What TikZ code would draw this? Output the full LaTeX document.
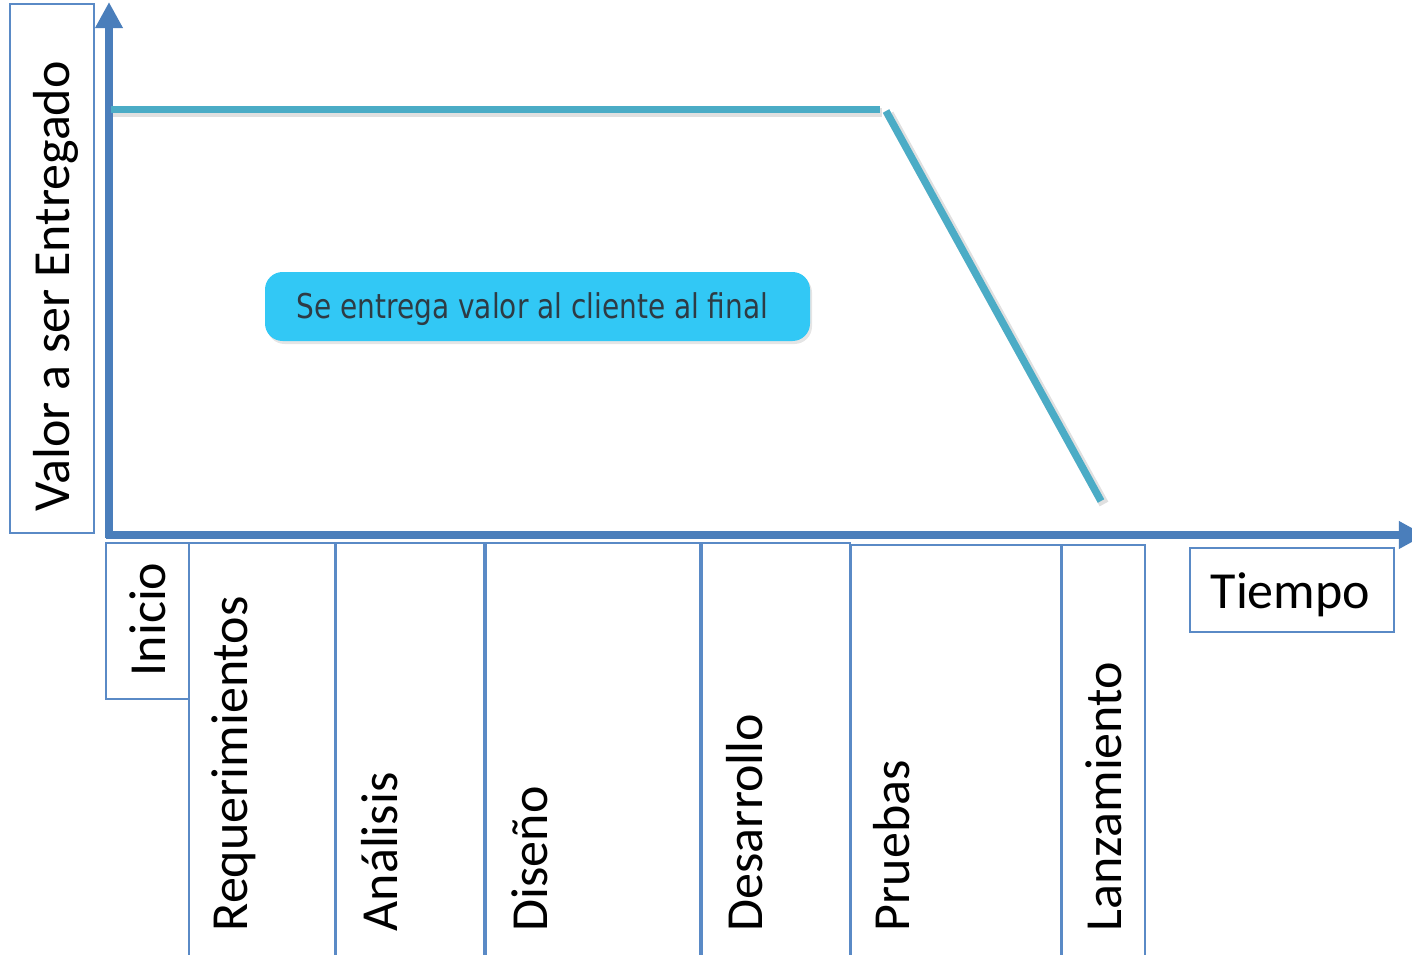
\documentclass[tikz,border=0pt]{standalone}
\usepackage{fontspec}
\setmainfont{Carlito}
\newfontfamily\calloutfont{DejaVu Sans}
\usetikzlibrary{arrows.meta}
\definecolor{axisblue}{HTML}{4A7EBB}
\definecolor{boxblue}{HTML}{5A8AC6}
\definecolor{valueteal}{HTML}{4BACC6}
\definecolor{calloutfill}{HTML}{32C8F5}
\definecolor{callouttext}{HTML}{2E3B44}
\tikzset{
  axisline/.style={draw=axisblue, line width=2pt, -{Triangle[length=7.4pt,width=7.4pt]}},
  phasebox/.style={draw=boxblue, line width=0.65pt},
  valueline/.style={draw=valueteal, line width=2.1pt},
  valueshadow/.style={draw=black, opacity=0.12, line width=2.8pt},
  phaselabel/.style={rotate=90, anchor=base west, inner sep=0pt, font=\fontsize{14.8}{16}\selectfont},
  plainlabel/.style={anchor=base west, inner sep=0pt, font=\fontsize{14.8}{16}\selectfont},
}
\begin{document}
\begin{tikzpicture}[x=0.01cm, y=-0.01cm]
\useasboundingbox (0,0) rectangle (1412,954);
\clip (0,0) rectangle (1412,954);
\fill[white] (0,0) rectangle (1412,954);

% vertical axis label
\draw[phasebox] (10,4) rectangle (94,533);
\node[phaselabel] (valor) at (70,512) {Valor a ser Entregado};

% axes
\coordinate (origin) at (109,538);
\coordinate (ytip) at (109,2);
\coordinate (xstart) at (106,535);
\coordinate (xtip) at (1425,535);
\draw[axisline] (origin) -- (ytip);
\draw[axisline] (xstart) -- (xtip);

% value curve with soft shadow
\coordinate (v0) at (111,109.5);
\coordinate (v1) at (880,109.5);
\coordinate (v2) at (886,111);
\coordinate (v3) at (1101,501);
\draw[valueshadow] ([shift={(2,3)}]v0) -- ([shift={(2,3)}]v1);
\draw[valueshadow] ([shift={(3,3)}]v2) -- ([shift={(3,3)}]v3);
\draw[valueline] (v0) -- (v1);
\draw[valueline] (v2) -- (v3);

% callout
\fill[black, opacity=0.10, rounded corners=5] (267,275) rectangle (812,344);
\fill[calloutfill, rounded corners=5] (265,272) rectangle (810,341);
\node[text=callouttext, inner sep=0pt, anchor=base] (callout) at (532.5,318)
  {\calloutfont\fontsize{9.7}{11}\selectfont\scalebox{0.82}[1]{Se entrega valor al cliente al final}};

% phase boxes
\draw[phasebox] (106,543) rectangle (189,699);
\draw[phasebox] (189,543) rectangle (335,970);
\draw[phasebox] (336,543) rectangle (484,970);
\draw[phasebox] (486,543) rectangle (700,970);
\draw[phasebox] (702,543) rectangle (850,970);
\draw[phasebox] (851,545) rectangle (1061,970);
\draw[phasebox] (1062,545) rectangle (1145,970);
\draw[phasebox] (1190,548) rectangle (1394,632);

% phase labels
\node[phaselabel] (inicio) at (165,677) {Inicio};
\node[phaselabel] (req) at (247,932) {Requerimientos};
\node[phaselabel] (analisis) at (397,932) {Análisis};
\node[phaselabel] (diseno) at (547,932) {Diseño};
\node[phaselabel] (desarrollo) at (762,932) {Desarrollo};
\node[phaselabel] (pruebas) at (909,932) {Pruebas};
\node[phaselabel] (lanzamiento) at (1121,932) {Lanzamiento};
\node[plainlabel] (tiempo) at (1210,608) {Tiempo};
\end{tikzpicture}
\end{document}
